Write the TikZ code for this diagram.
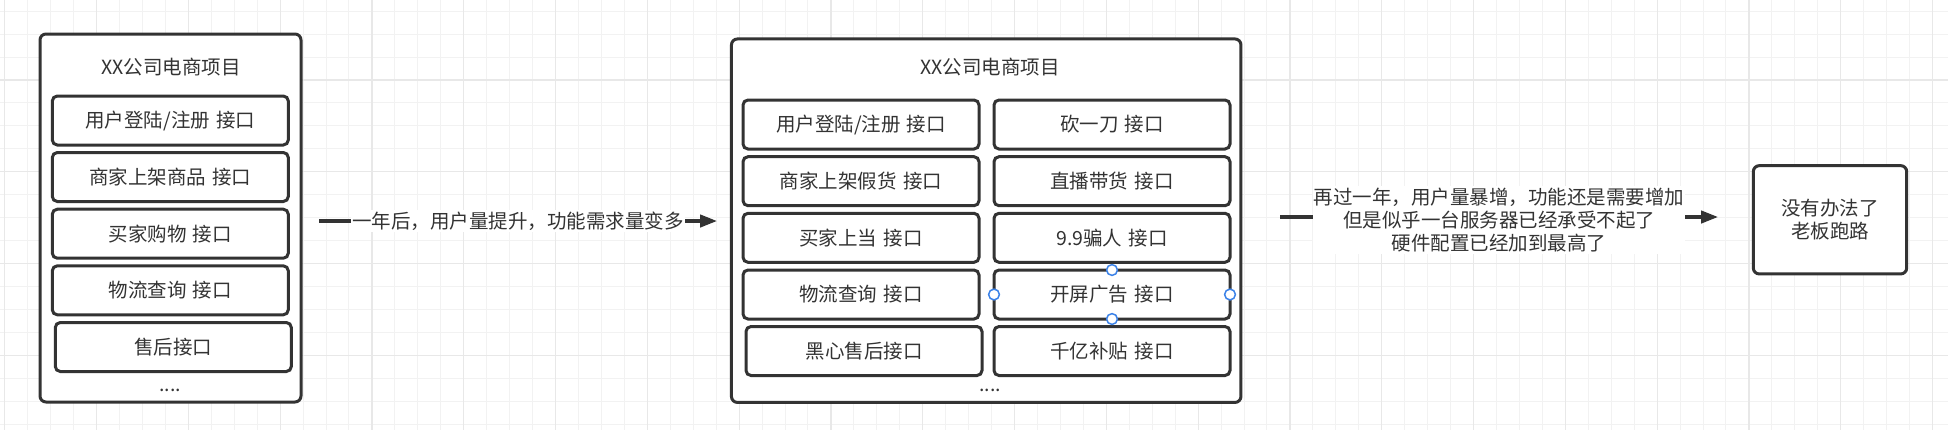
\documentclass[tikz,border=0pt]{standalone}
\usepackage{fontspec}
\setmainfont{Noto Sans CJK SC}
\usepackage{tikz}
\usetikzlibrary{arrows.meta}
\definecolor{ink}{HTML}{333333}
\definecolor{handleblue}{HTML}{3B82E8}
\tikzset{>={Triangle[length=8.5pt,width=6.2pt]}}
\newcommand{\apigap}{\hspace{0.32em}}

\begin{document}
\begin{tikzpicture}[x=0.5pt,y=-0.5pt,
    font=\fontsize{9.75}{11.65}\selectfont, text=ink,
    minor/.style={line width=0.5pt,black!5},
    major/.style={line width=0.6pt,black!9},
    frame/.style={draw=ink,line width=1.5pt,rounded corners=3pt,fill=white,inner sep=0pt,outer sep=0pt},
    api/.style={frame,rounded corners=2.5pt,minimum width=118pt,minimum height=24.5pt},
    flow/.style={draw=ink,line width=1.6pt,->},
    lbl/.style={fill=white,inner sep=0.6pt,align=center},
    handle/.style={draw=handleblue,line width=0.75pt,fill=white}]
    \useasboundingbox (0,0) rectangle (1948,430);
    \fill[white] (0,0) rectangle (1948,430);
    \foreach \i in {0,...,84} \draw[minor] ({4.7+22.95*\i},0) -- ({4.7+22.95*\i},430);
    \foreach \j in {0,...,18} \draw[minor] (0,{11.15+22.95*\j}) -- (1948,{11.15+22.95*\j});
    \foreach \i in {0,...,21} \draw[major] ({4.7+91.8*\i},0) -- ({4.7+91.8*\i},430);
    \foreach \j in {0,...,3} \draw[major] (0,{80+91.8*\j}) -- (1948,{80+91.8*\j});

    \node[frame,minimum width=130.5pt,minimum height=184pt] (lbox) at (170.5,218) {};
    \node (ltitle) at (171,66.7) {XX公司电商项目};
    \node[api] (l1) at (170.3,120.5) {用户登陆/注册\apigap 接口};
    \node[api] (l2) at (170.3,177) {商家上架商品\apigap 接口};
    \node[api] (l3) at (170.3,233.7) {买家购物\apigap 接口};
    \node[api] (l4) at (170.3,290.3) {物流查询\apigap 接口};
    \node[api] (l5) at (173.3,347) {售后接口};
    \node[anchor=base] (ldots) at (170,391) {....};

    \node[frame,minimum width=254.75pt,minimum height=181.75pt] (mbox) at (986.2,220.7) {};
    \node (mtitle) at (990,66.7) {XX公司电商项目};
    \node[api] (ml1) at (861,124.5) {用户登陆/注册\apigap 接口};
    \node[api] (ml2) at (861,181.2) {商家上架假货\apigap 接口};
    \node[api] (ml3) at (861,237.8) {买家上当\apigap 接口};
    \node[api] (ml4) at (861,294.5) {物流查询\apigap 接口};
    \node[api] (ml5) at (864,351) {黑心售后接口};
    \node[api] (mr1) at (1112,124.5) {砍一刀\apigap 接口};
    \node[api] (mr2) at (1112,181.2) {直播带货\apigap 接口};
    \node[api] (mr3) at (1112,237.8) {9.9骗人\apigap 接口};
    \node[api] (mr4) at (1112,294.5) {开屏广告\apigap 接口};
    \node[api] (mr5) at (1112,351) {千亿补贴\apigap 接口};
    \node[anchor=base] (mdots) at (990,391) {....};
    \draw[handle] (mr4.north) circle[radius=2.7pt];
    \draw[handle] (mr4.south) circle[radius=2.7pt];
    \draw[handle] (mr4.west) circle[radius=2.7pt];
    \draw[handle] (mr4.east) circle[radius=2.7pt];

    \node[frame,minimum width=76.7pt,minimum height=54.15pt,align=center] (rbox) at (1830,219.8) {没有办法了\\老板跑路};

    \coordinate (a1s) at (319,221);
    \coordinate (a1e) at (717,221);
    \coordinate (a2s) at (1280,217);
    \coordinate (a2e) at (1718,217);
    \draw[flow] (a1s) -- node[lbl] (lbl1) {一年后，用户量提升，功能需求量变多} (a1e);
    \draw[flow] (a2s) -- node[lbl,yshift=-1.5pt] (lbl2) {再过一年，用户量暴增，功能还是需要增加\\但是似乎一台服务器已经承受不起了\\硬件配置已经加到最高了} (a2e);
\end{tikzpicture}
\end{document}
